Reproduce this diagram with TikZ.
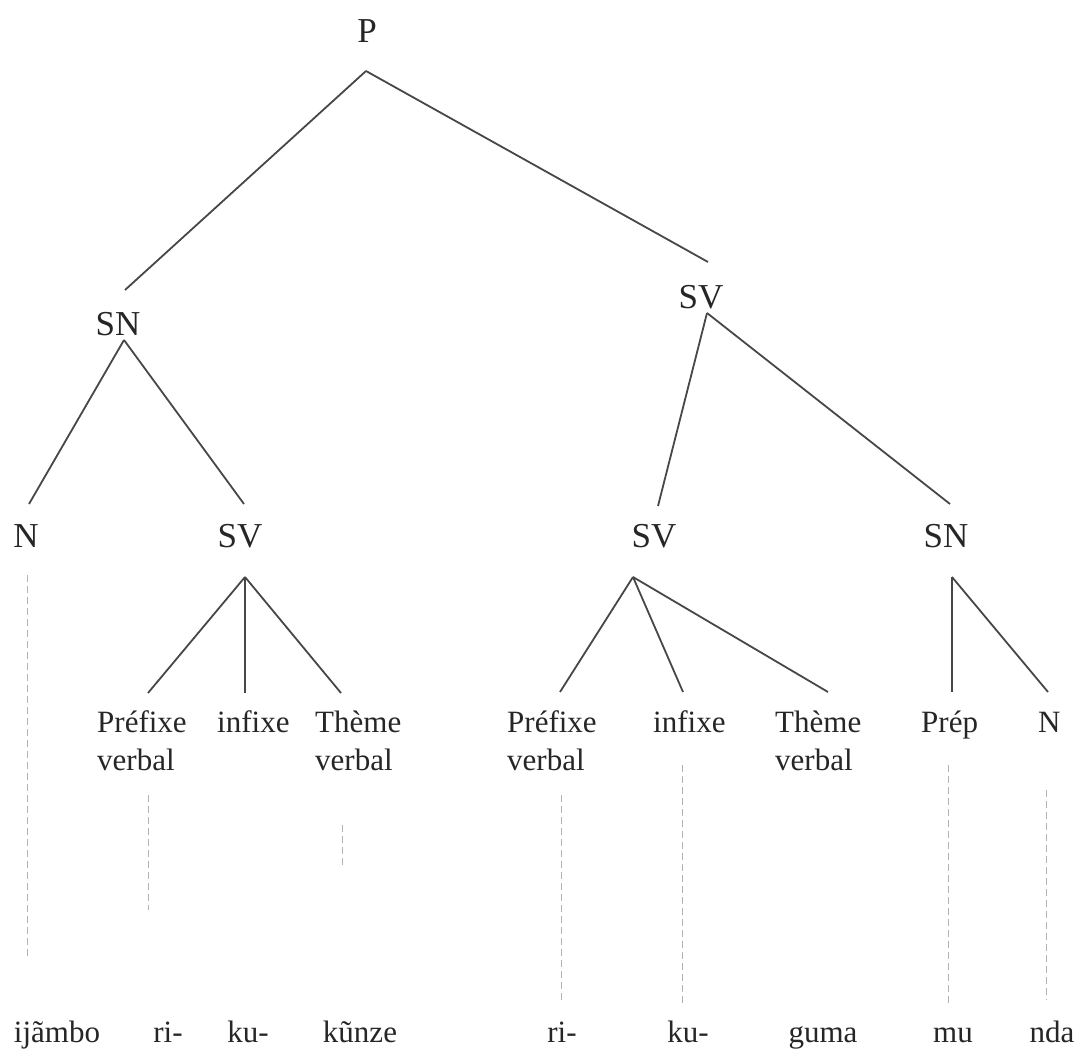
\documentclass[tikz,border=0pt]{standalone}
\usepackage{fontspec}
\setmainfont{Liberation Serif}
\usetikzlibrary{calc}
\begin{document}
\begin{tikzpicture}[x=1pt,y=-1pt,
  cat/.style={anchor=base, inner sep=0pt, font=\fontsize{35}{40}\selectfont, text=black!85},
  leaf/.style={anchor=base west, inner sep=0pt, align=left, font=\fontsize{31}{38}\selectfont, text=black!85},
  word/.style={anchor=base, inner sep=0pt, font=\fontsize{31}{38}\selectfont, text=black!85},
  branch/.style={draw=black!72, line width=1.8pt},
  trace/.style={draw=black!30, line width=0.9pt, dash pattern=on 7pt off 4pt}]
\useasboundingbox[fill=white] (0,0) rectangle (1083,1051);

% category nodes
\node[cat] (P)   at (367,43)  {P};
\node[cat] (SN1) at (118,335) {SN};
\node[cat] (SV1) at (701,308) {SV};
\node[cat] (N2)  at (26,547)  {N};
\node[cat] (SV2) at (240,547) {SV};
\node[cat] (SV3) at (654,547) {SV};
\node[cat] (SN2) at (946,547) {SN};

% leaves (two-line leaves are placed by the baseline of their last line)
\node[leaf] (pf1)  at (97,770)   {Préfixe\\verbal};
\node[leaf] (in1)  at (217,732)  {infixe};
\node[leaf] (th1)  at (315,770)  {Thème\\verbal};
\node[leaf] (pf2)  at (507,770)  {Préfixe\\verbal};
\node[leaf] (in2)  at (653,732)  {infixe};
\node[leaf] (th2)  at (775,770)  {Thème\\verbal};
\node[leaf] (prep) at (921,732)  {Prép};
\node[leaf] (N3)   at (1038,732) {N};

% words
\node[word] (w1) at (57,1042)   {ijãmbo};
\node[word] (w2) at (168,1042)  {ri-};
\node[word] (w3) at (248,1042)  {ku-};
\node[word] (w4) at (360,1042)  {kũnze};
\node[word] (w5) at (562,1042)  {ri-};
\node[word] (w6) at (688,1042)  {ku-};
\node[word] (w7) at (823,1042)  {guma};
\node[word] (w8) at (953,1042)  {mu};
\node[word] (w9) at (1052,1042) {nda};

% branches
\draw[branch] ($(P.base)+(-1,28)$) -- ($(SN1.base)+(7,-45)$);
\draw[branch] ($(P.base)+(-1,28)$) -- ($(SV1.base)+(7,-46)$);
\draw[branch] ($(SN1.base)+(6,5)$) -- ($(N2.base)+(3,-43)$);
\draw[branch] ($(SN1.base)+(6,5)$) -- ($(SV2.base)+(4,-43)$);
\draw[branch] ($(SV1.base)+(6,5)$) -- ($(SV3.base)+(4,-41)$);
\draw[branch] ($(SV1.base)+(6,5)$) -- ($(SN2.base)+(4,-43)$);
\draw[branch] ($(SV2.base)+(5,30)$) -- ($(pf1.base west)+(51,-77)$);
\draw[branch] ($(SV2.base)+(5,30)$) -- ($(in1.base west)+(28,-39)$);
\draw[branch] ($(SV2.base)+(5,30)$) -- ($(th1.base west)+(26,-77)$);
\draw[branch] ($(SV3.base)+(-21,30)$) -- ($(pf2.base west)+(53,-78)$);
\draw[branch] ($(SV3.base)+(-21,30)$) -- ($(in2.base west)+(30,-40)$);
\draw[branch] ($(SV3.base)+(-21,30)$) -- ($(th2.base west)+(53,-78)$);
\draw[branch] ($(SN2.base)+(6,30)$) -- ($(prep.base west)+(31,-40)$);
\draw[branch] ($(SN2.base)+(6,30)$) -- ($(N3.base west)+(10,-40)$);

% faint traces down to the words
\draw[trace] ($(N2.base)+(1,28)$) -- ($(N2.base |- w1.base)+(1,-82)$);
\draw[trace] ($(pf1.base west)+(51,25)$) -- ($(pf1.base west |- w2.base)+(51,-132)$);
\draw[trace] ($(th1.base west)+(27,55)$) -- ($(th1.base west |- w4.base)+(27,-177)$);
\draw[trace] ($(pf2.base west)+(54,25)$) -- ($(pf2.base west |- w5.base)+(54,-42)$);
\draw[trace] ($(in2.base west)+(29,33)$) -- ($(in2.base west |- w6.base)+(29,-39)$);
\draw[trace] ($(prep.base west)+(27,33)$) -- ($(prep.base west |- w8.base)+(27,-37)$);
\draw[trace] ($(N3.base west)+(8,58)$) -- ($(N3.base west |- w9.base)+(8,-42)$);
\end{tikzpicture}
\end{document}
